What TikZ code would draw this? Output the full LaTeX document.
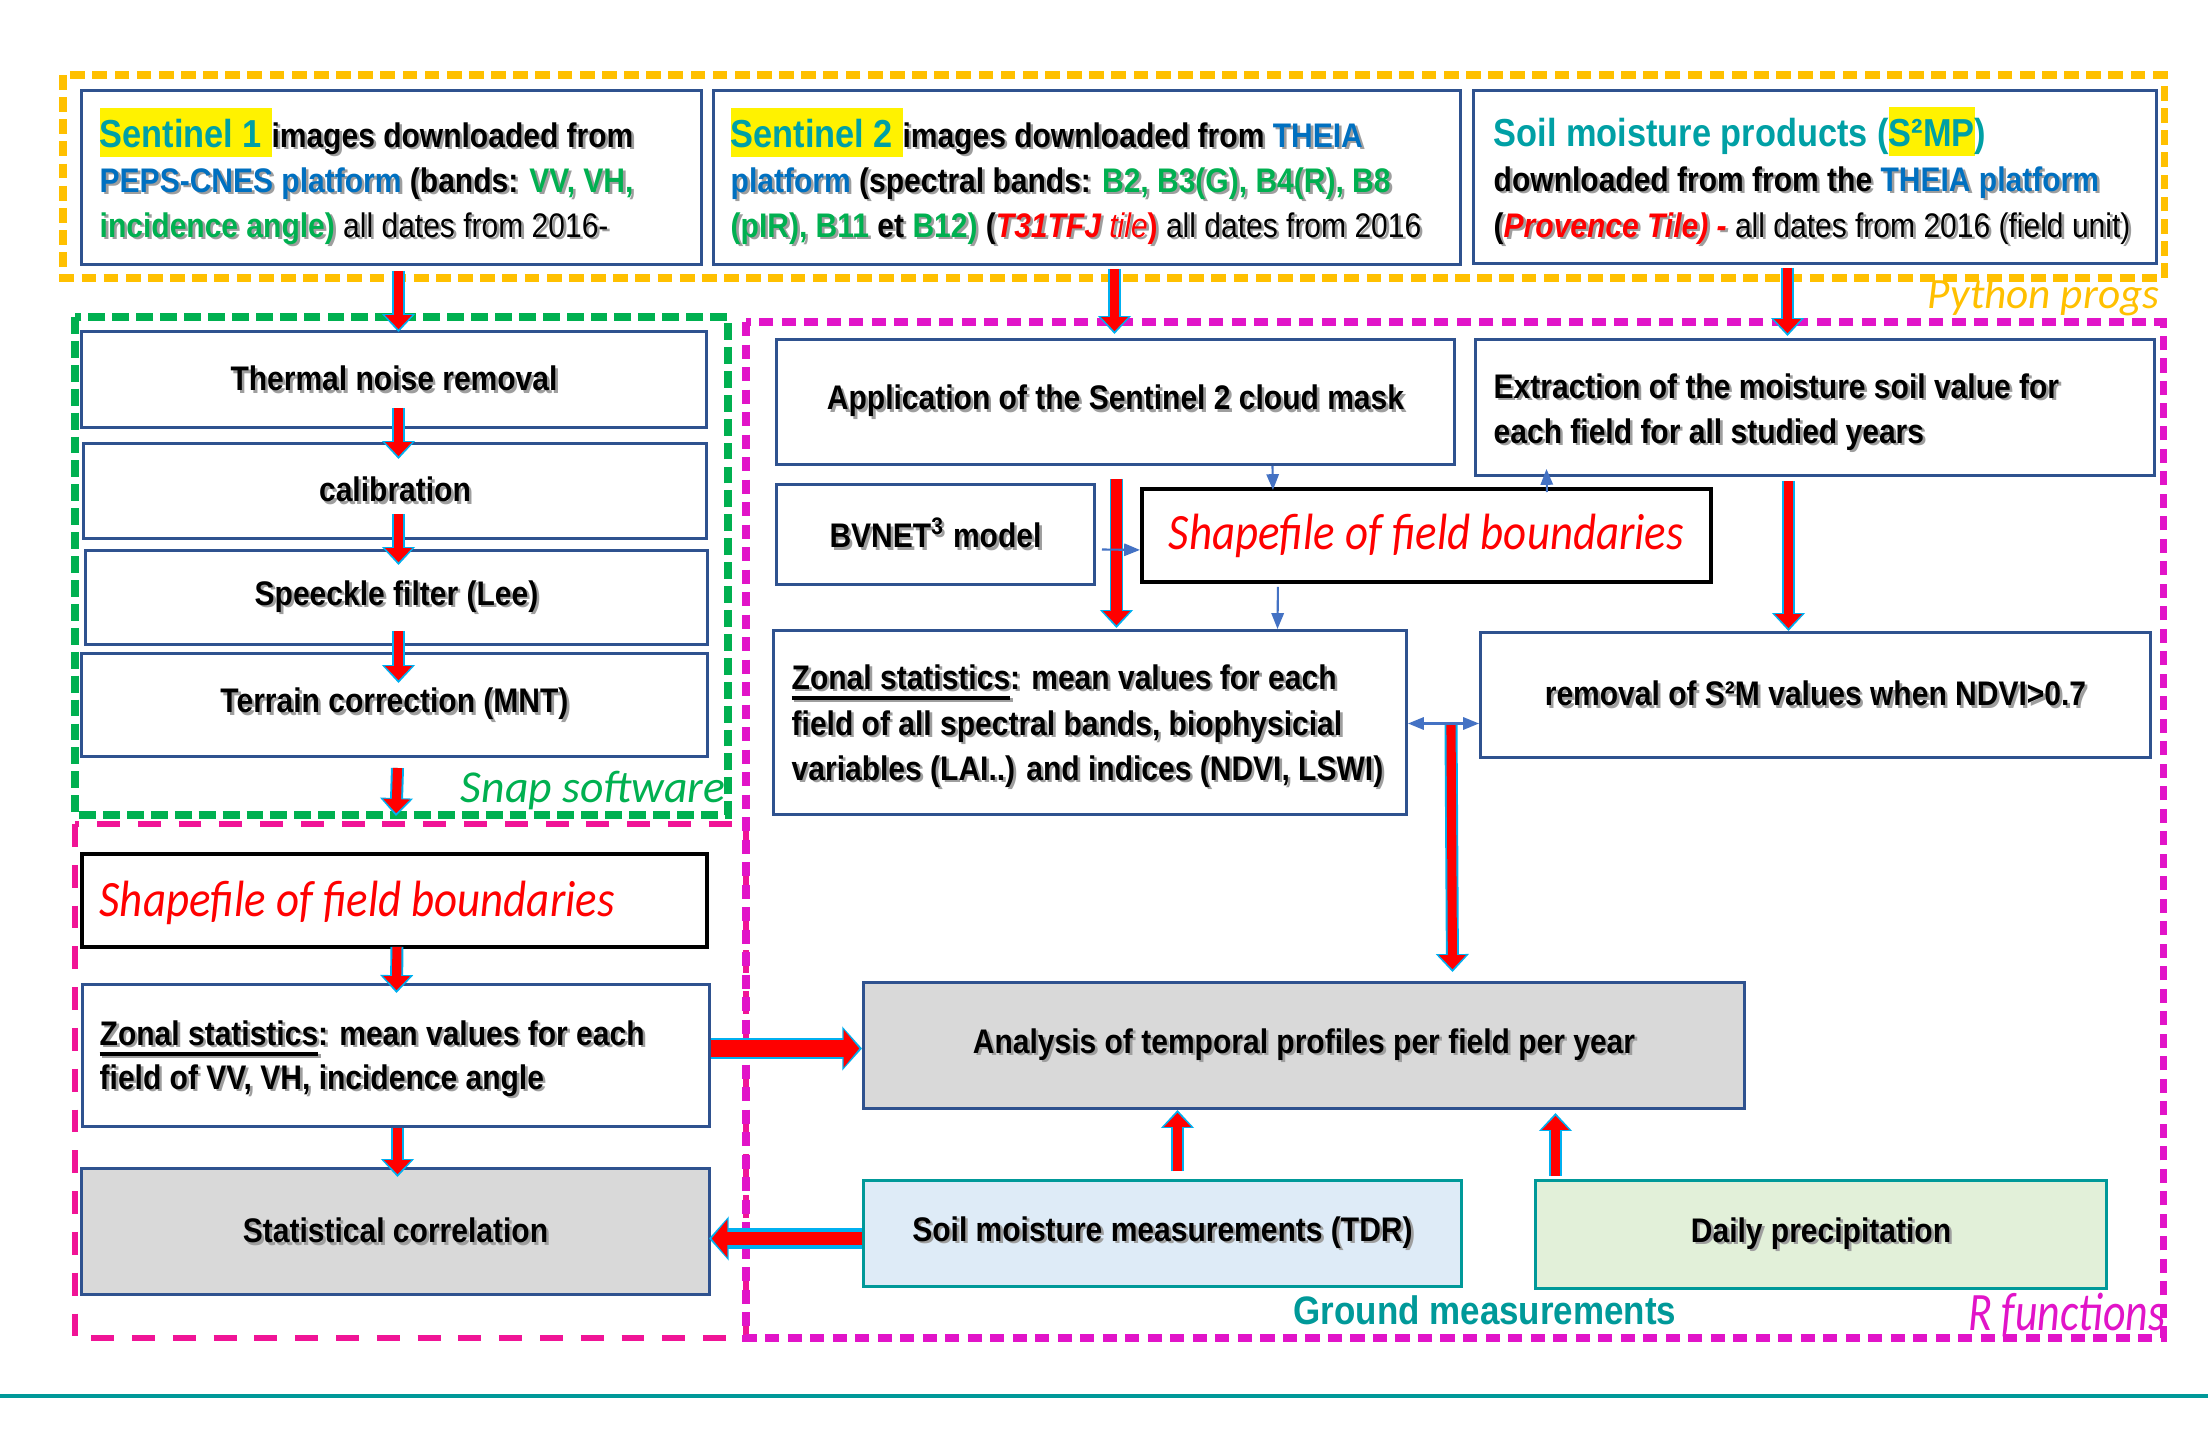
\documentclass[tikz,border=0pt]{standalone}
\usepackage{fontspec}
\setmainfont[FakeStretch=0.88]{Liberation Sans}
\newfontfamily\calf[FakeStretch=0.88]{Carlito}
\newfontfamily\calu{Carlito}
\newfontfamily\calr[FakeStretch=0.81]{Carlito}
\usetikzlibrary{arrows.meta,calc}
\definecolor{tealt}{RGB}{0,160,165}
\definecolor{bluet}{HTML}{0070C0}
\definecolor{greent}{HTML}{00B050}
\definecolor{boxblue}{HTML}{2F528F}
\definecolor{arrcyan}{HTML}{00B0F0}
\definecolor{bluea}{HTML}{4472C4}
\definecolor{yelw}{HTML}{FFC000}
\definecolor{pinkl}{RGB}{240,20,150}
\definecolor{magr}{RGB}{225,20,200}
\definecolor{tealb}{HTML}{009999}
\definecolor{grayf}{HTML}{D9D9D9}
\definecolor{tdrf}{HTML}{DEEBF7}
\definecolor{dayf}{HTML}{E2F0D9}
\definecolor{shdc}{gray}{0.62}
\newif\ifshd \shdfalse
\newcommand\tc[2]{\ifshd\textcolor{shdc}{#2}\else\textcolor{#1}{#2}\fi}
\newcommand\shd[1]{\leavevmode\rlap{\shdtrue\color{shdc}\kern0.75pt\raisebox{-0.75pt}{#1}}#1}
\newcommand\hlt[1]{\ifshd{\rule[-2.85pt]{0pt}{13.95pt}#1}\else{\setlength{\fboxsep}{0pt}\colorbox{yellow}{\rule[-2.85pt]{0pt}{13.95pt}#1}}\fi}
\newcommand\bodyf{\fontsize{9.7pt}{13pt}\selectfont\bfseries}
\newcommand\titf{\fontsize{11.1pt}{14pt}\selectfont\bfseries}
\newcommand\shpf{\calf\itshape\fontsize{14.5pt}{16pt}\selectfont}
\newcommand\thul[1]{\setbox0\hbox{#1}\rlap{\rule[-3pt]{\wd0}{1.1pt}}\box0}
\newcommand\mybox[7]{\node[#6, anchor=north west, minimum width={(#4-#2)*0.01cm}, minimum height={(#5-#3)*0.01cm}] (#1) at (#2,#3) {#7};}
\tikzset{
 bx/.style={draw=boxblue, line width=0.85pt, fill=white, inner sep=0pt, font=\bodyf},
 bkbx/.style={draw=black, line width=1.1pt, fill=white, inner sep=0pt, font=\shpf, text=red},
 gybx/.style={bx, fill=grayf},
 tdrbx/.style={draw=tealb, line width=0.85pt, fill=tdrf, inner sep=0pt, font=\bodyf},
 daybx/.style={draw=tealb, line width=0.85pt, fill=dayf, inner sep=0pt, font=\bodyf},
 txt/.style={inner sep=0pt, anchor=base west, font=\bodyf},
 fa/.style={draw=red, line width=2.6pt, shorten >=0.8pt, -{Triangle[length=4pt,width=7.4pt]},
   preaction={draw=arrcyan, line width=3.7pt, shorten >=0pt, -{Triangle[length=5.1pt,width=9.1pt]}}},
 fah/.style={draw=red, line width=4.6pt, shorten >=0.8pt, -{Triangle[length=4.4pt,width=10.5pt]},
   preaction={draw=arrcyan, line width=5.8pt, shorten >=0pt, -{Triangle[length=5.6pt,width=12.2pt]}}},
 ba/.style={draw=bluea, line width=0.6pt, -{Triangle[length=4.5pt,width=3.5pt]}},
 yd/.style={draw=yelw, line width=2pt, dash pattern=on 4.2pt off 2.1pt},
 gd/.style={draw=greent, line width=2pt, dash pattern=on 4.8pt off 2pt},
 pd/.style={draw=pinkl, line width=1.9pt, dash pattern=on 6.5pt off 5.1pt},
 md/.style={draw=magr, line width=2pt, dash pattern=on 4pt off 2.4pt},
}
\begin{document}
\begin{tikzpicture}[x=0.01cm,y=-0.01cm]
\useasboundingbox (0,0) rectangle (2208,1451);
\fill[white] (0,0) rectangle (2208,1451);
% dashed regions
\draw[yd] (63,75) rectangle (2164,278);
\draw[gd] (75,317) rectangle (728,815);
\draw[pd] (75,824) rectangle (746,1338);
\draw[md] (746,322) rectangle (2163,1338);
\draw[draw=tealb, line width=1.4pt] (0,1396) -- (2208,1396);
% labels
\node[inner sep=0pt, anchor=base east, font=\calu\itshape\fontsize{12.3pt}{14pt}\selectfont, text=yelw] (lpy) at (2160,308) {Python progs};
\node[inner sep=0pt, anchor=base east, font=\calu\itshape\fontsize{13pt}{15pt}\selectfont, text=greent] (lsnap) at (726,802) {Snap software};
\node[inner sep=0pt, anchor=base east, font=\calr\itshape\fontsize{15.4pt}{17pt}\selectfont, text=magr] (lr) at (2166,1330) {R functions};
\node[inner sep=0pt, anchor=base, font=\fontsize{11.3pt}{13pt}\selectfont\bfseries, text=tealb] (lgm) at (1485,1324) {Ground measurements};
% top boxes
\mybox{s1box}{80}{89}{700}{263}{bx}{}
\mybox{s2box}{712}{89}{1459}{263}{bx}{}
\mybox{smbox}{1472}{89}{2155}{262}{bx}{}
\node[txt] (s1a) at (99,147) {\shd{\hlt{\titf\tc{tealt}{Sentinel 1 }}images downloaded from}};
\node[txt] (s1b) at (99,192) {\shd{\tc{bluet}{PEPS-CNES platform} (bands: \tc{greent}{VV, VH,}}};
\node[txt] (s1c) at (99,237) {\shd{\tc{greent}{incidence angle)}\mdseries{} all dates from 2016-}};
\node[txt] (s2a) at (730,147) {\shd{\hlt{\titf\tc{tealt}{Sentinel 2 }}images downloaded from \tc{bluet}{THEIA}}};
\node[txt] (s2b) at (730,192) {\shd{\tc{bluet}{platform} (spectral bands: \tc{greent}{B2, B3(G), B4(R), B8}}};
\node[txt] (s2c) at (730,237) {\shd{\tc{greent}{(pIR), B11} et \tc{greent}{B12)} (\tc{red}{\itshape T31TFJ {\mdseries tile}\upshape)}\mdseries{} all dates from 2016}};
\node[txt] (sma) at (1493,146) {\titf\textcolor{tealt}{Soil moisture products (\hlt{S²MP})}};
\node[txt] (smb) at (1493,191) {\shd{downloaded from from the \tc{bluet}{THEIA platform}}};
\node[txt] (smc) at (1493,237) {\shd{(\tc{red}{\itshape Provence Tile) -}\mdseries{} all dates from 2016 (field unit)}};
% left column
\mybox{thermal}{80}{330}{705}{426}{bx}{\shd{Thermal noise removal}}
\mybox{calib}{82}{442}{705}{537}{bx}{\shd{calibration}}
\mybox{speck}{84}{549}{706}{643}{bx}{\shd{Speeckle filter (Lee)}}
\mybox{terrain}{80}{652}{706}{755}{bx}{\shd{Terrain correction (MNT)}}
\mybox{shp1}{80}{852}{705}{945}{bkbx}{}
\node[inner sep=0pt, anchor=base west, font=\shpf, text=red] (shp1t) at (99,916) {Shapefile of field boundaries};
\mybox{zon1}{81}{983}{708}{1125}{bx}{}
\node[txt] (z1a) at (99,1045) {\shd{\thul{Zonal statistics}: mean values for each}};
\node[txt] (z1b) at (99,1089) {\shd{field of VV, VH, incidence angle}};
\mybox{stat}{80}{1167}{708}{1293}{gybx}{\shd{Statistical correlation}}
% right region
\mybox{cloud}{775}{338}{1453}{463}{bx}{\shd{Application of the Sentinel 2 cloud mask}}
\mybox{extract}{1474}{338}{2153}{474}{bx}{}
\node[txt] (exa) at (1493,398) {\shd{Extraction of the moisture soil value for}};
\node[txt] (exb) at (1493,443) {\shd{each field for all studied years}};
\mybox{bvnet}{775}{483}{1093}{583}{bx}{\shd{BVNET\textsuperscript{3} model}}
\mybox{shp2}{1140}{487}{1709}{580}{bkbx}{Shapefile of field boundaries}
\mybox{zon2}{772}{629}{1405}{813}{bx}{}
\node[txt] (z2a) at (791,689) {\shd{\thul{Zonal statistics}: mean values for each}};
\node[txt] (z2b) at (791,735) {\shd{field of all spectral bands, biophysicial}};
\node[txt] (z2c) at (791,780) {\shd{variables (LAI..) and indices (NDVI, LSWI)}};
\mybox{remov}{1479}{631}{2149}{756}{bx}{\shd{removal of S²M values when NDVI>0.7}}
\mybox{anal}{862}{981}{1743}{1107}{gybx}{\shd{Analysis of temporal profiles per field per year}}
\mybox{tdr}{862}{1179}{1460}{1285}{tdrbx}{\shd{Soil moisture measurements (TDR)}}
\mybox{daily}{1534}{1179}{2105}{1287}{daybx}{\shd{Daily precipitation}}
% coordinates for free ends
\coordinate (a5e) at (396,816);
\coordinate (a12s) at (1451,725);
% fat arrows
\draw[fa] ($(s1box.south)+(7,5)$) -- ($(thermal.north)+(4.5,2)$);
\draw[fa] ($(thermal.south)+(4.5,-21)$) -- ($(calib.north)+(3.5,17)$);
\draw[fa] ($(calib.south)+(3.5,-26)$) -- ($(speck.north)+(2,16)$);
\draw[fa] ($(speck.south)+(2,-15)$) -- ($(terrain.north)+(4,31)$);
\draw[fa] ($(terrain.south)+(3,10)$) -- (a5e);
\draw[fa] ($(shp1.south)+(2.5,-2)$) -- ($(zon1.north)+(0.5,10)$);
\draw[fa] ($(zon1.south)+(1.5,0)$) -- ($(stat.north)+(2,10)$);
\draw[fa] ($(s2box.south)+(27.5,3)$) -- ($(cloud.north)+(-1,-4)$);
\draw[fa] ($(smbox.south)+(-27.5,3)$) -- ($(extract.north)+(-27.5,-2)$);
\draw[fa, line width=3.2pt] ($(cloud.south)+(1,13)$) -- ($(zon2.north)+(26.5,-1)$);
\draw[fa] ($(extract.south)+(-26.5,4)$) -- ($(remov.north)+(-27,0)$);
\draw[fa] (a12s) -- ($(anal.north)+(148.5,-9)$);
\draw[fa] ($(tdr.north)+(15,-8)$) -- ($(anal.south)+(-126.5,0)$);
\draw[fa] ($(daily.north)+(-265.5,-3)$) -- ($(anal.south)+(251.5,3)$);
\draw[fah] ($(zon1.east)+(0,-7)$) -- ($(anal.west)+(0,3)$);
\draw[fah, line width=3.9pt] ($(tdr.west)+(0,5)$) -- ($(stat.east)+(-2,7)$);
% thin blue arrows
\draw[ba] ($(cloud.south)+(157,0)$) -- ($(shp2.north)+(-153.5,3)$);
\draw[ba] ($(shp2.north)+(120.5,5)$) -- ($(extract.south)+(-268.5,-8)$);
\draw[ba] ($(bvnet.east)+(6,15)$) -- ($(shp2.west)+(0,14.5)$);
\draw[ba] ($(shp2.south)+(-148.5,3)$) -- ($(zon2.north)+(187.5,0)$);
\draw[ba, {Triangle[length=4.5pt,width=3.5pt]}-{Triangle[length=4.5pt,width=3.5pt]}] ($(zon2.east)+(0,1)$) -- ($(remov.west)+(0,28.5)$);
\end{tikzpicture}
\end{document}
